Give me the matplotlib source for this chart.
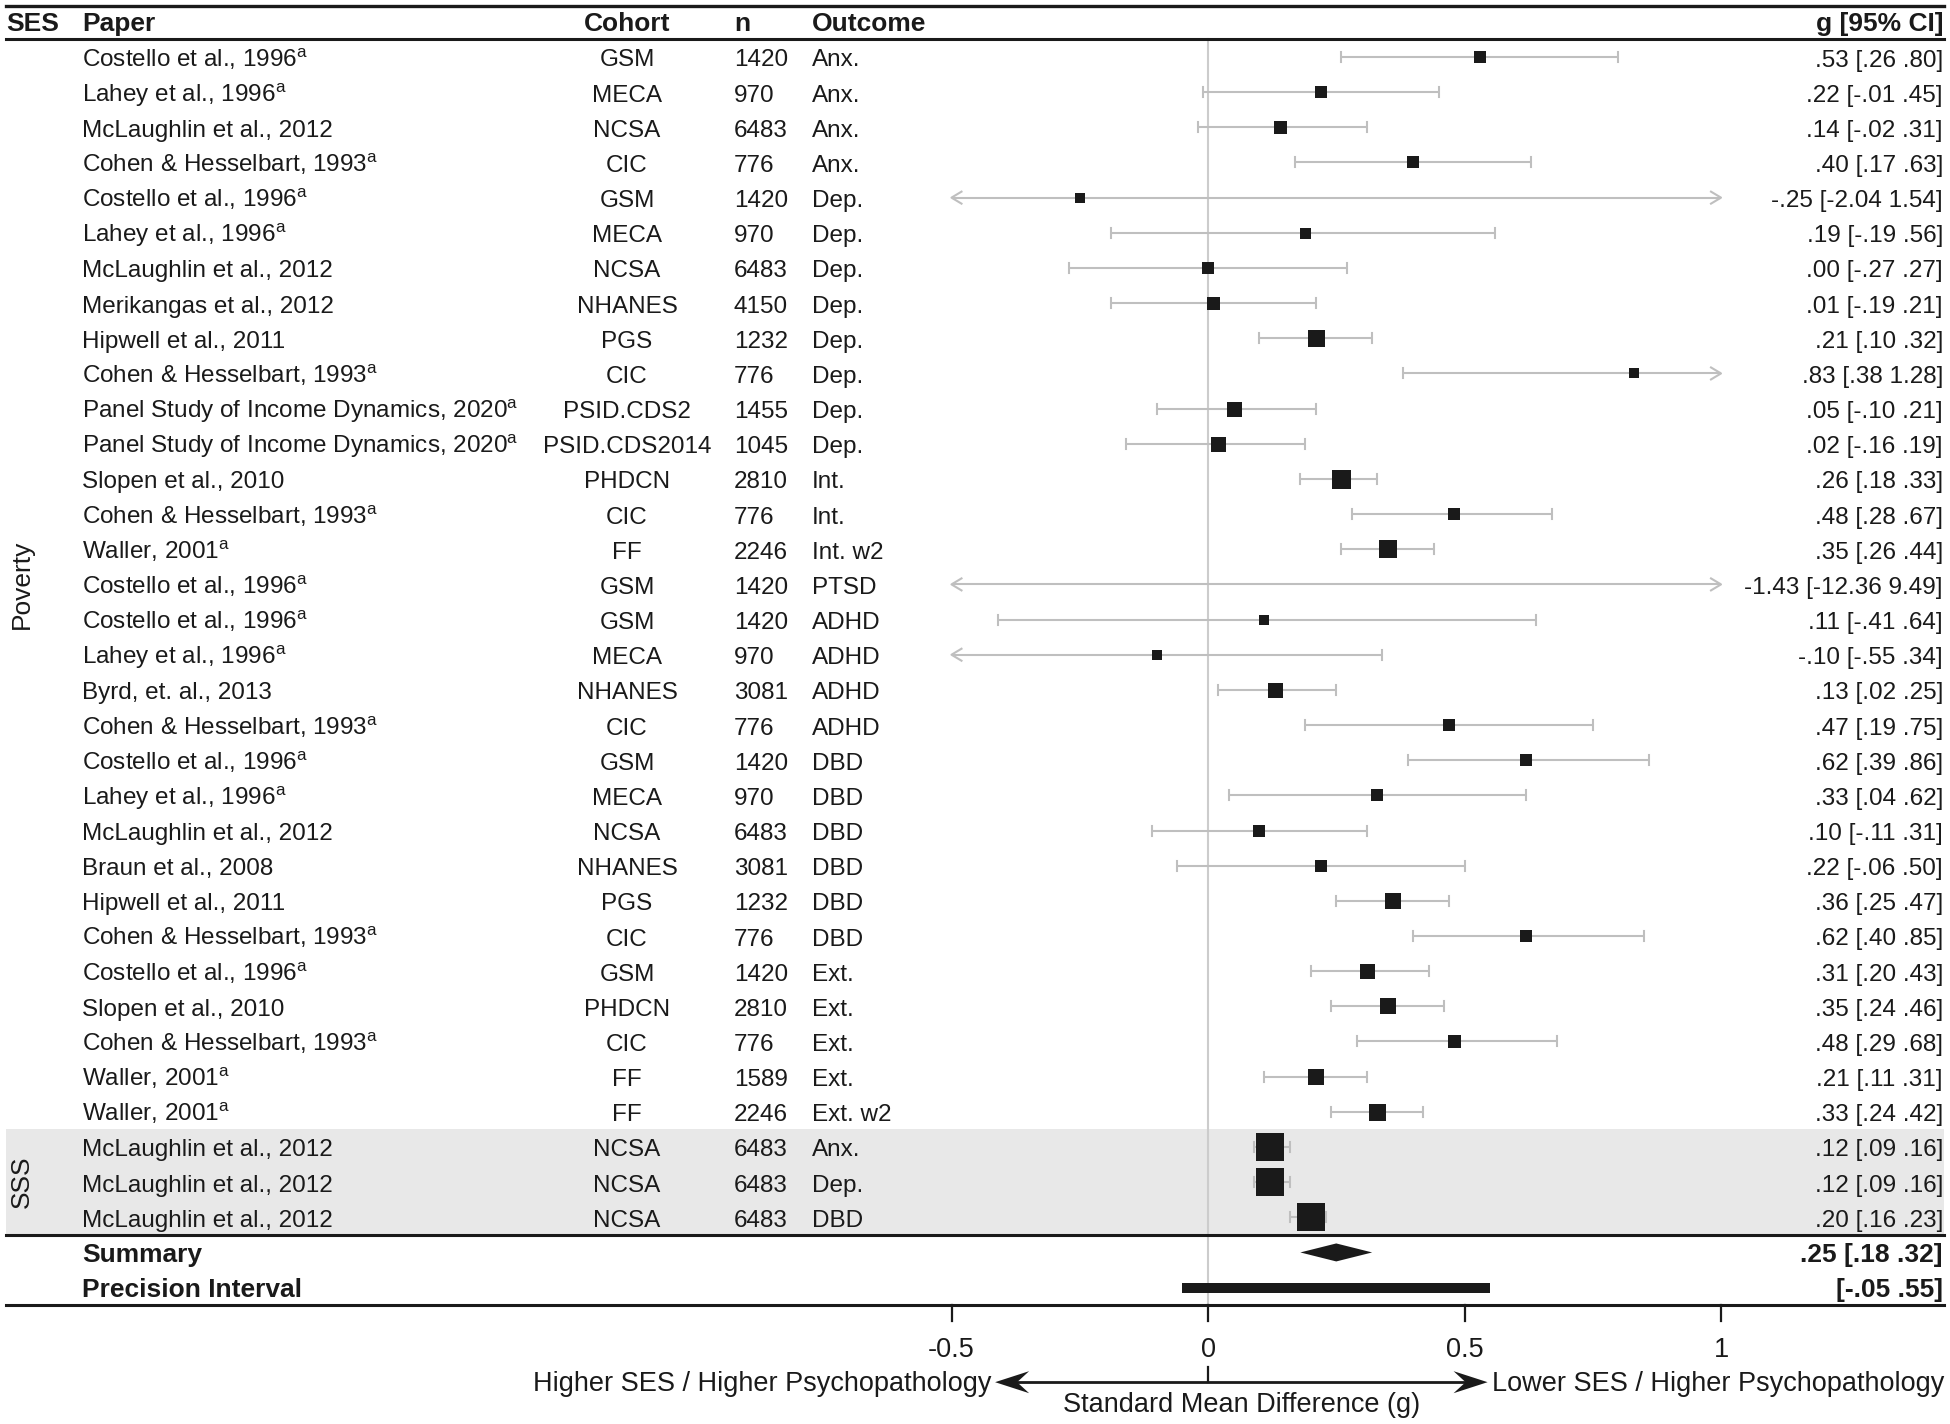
import matplotlib
matplotlib.use('Agg')
import matplotlib.pyplot as plt
from matplotlib.transforms import blended_transform_factory

plt.rcParams['font.family'] = ['Liberation Sans', 'DejaVu Sans']
plt.rcParams['mathtext.fontset'] = 'custom'
plt.rcParams['mathtext.rm'] = 'Liberation Sans'
plt.rcParams['mathtext.it'] = 'Liberation Sans:italic'
plt.rcParams['mathtext.bf'] = 'Liberation Sans:bold'

# ---------------- data ----------------
papers = [
    "Costello et al., 1996$^{\\mathrm{a}}$", "Lahey et al., 1996$^{\\mathrm{a}}$",
    "McLaughlin et al., 2012", "Cohen & Hesselbart, 1993$^{\\mathrm{a}}$",
    "Costello et al., 1996$^{\\mathrm{a}}$", "Lahey et al., 1996$^{\\mathrm{a}}$",
    "McLaughlin et al., 2012", "Merikangas et al., 2012", "Hipwell et al., 2011",
    "Cohen & Hesselbart, 1993$^{\\mathrm{a}}$",
    "Panel Study of Income Dynamics, 2020$^{\\mathrm{a}}$",
    "Panel Study of Income Dynamics, 2020$^{\\mathrm{a}}$",
    "Slopen et al., 2010", "Cohen & Hesselbart, 1993$^{\\mathrm{a}}$",
    "Waller, 2001$^{\\mathrm{a}}$", "Costello et al., 1996$^{\\mathrm{a}}$",
    "Costello et al., 1996$^{\\mathrm{a}}$", "Lahey et al., 1996$^{\\mathrm{a}}$",
    "Byrd, et. al., 2013", "Cohen & Hesselbart, 1993$^{\\mathrm{a}}$",
    "Costello et al., 1996$^{\\mathrm{a}}$", "Lahey et al., 1996$^{\\mathrm{a}}$",
    "McLaughlin et al., 2012", "Braun et al., 2008", "Hipwell et al., 2011",
    "Cohen & Hesselbart, 1993$^{\\mathrm{a}}$", "Costello et al., 1996$^{\\mathrm{a}}$",
    "Slopen et al., 2010", "Cohen & Hesselbart, 1993$^{\\mathrm{a}}$",
    "Waller, 2001$^{\\mathrm{a}}$", "Waller, 2001$^{\\mathrm{a}}$",
    "McLaughlin et al., 2012", "McLaughlin et al., 2012", "McLaughlin et al., 2012",
]
cohorts = ["GSM", "MECA", "NCSA", "CIC", "GSM", "MECA", "NCSA", "NHANES", "PGS", "CIC",
           "PSID.CDS2", "PSID.CDS2014", "PHDCN", "CIC", "FF", "GSM", "GSM", "MECA",
           "NHANES", "CIC", "GSM", "MECA", "NCSA", "NHANES", "PGS", "CIC", "GSM",
           "PHDCN", "CIC", "FF", "FF", "NCSA", "NCSA", "NCSA"]
ns = [1420, 970, 6483, 776, 1420, 970, 6483, 4150, 1232, 776, 1455, 1045, 2810, 776,
      2246, 1420, 1420, 970, 3081, 776, 1420, 970, 6483, 3081, 1232, 776, 1420, 2810,
      776, 1589, 2246, 6483, 6483, 6483]
outcomes = ["Anx.", "Anx.", "Anx.", "Anx.", "Dep.", "Dep.", "Dep.", "Dep.", "Dep.", "Dep.",
            "Dep.", "Dep.", "Int.", "Int.", "Int. w2", "PTSD", "ADHD", "ADHD", "ADHD",
            "ADHD", "DBD", "DBD", "DBD", "DBD", "DBD", "DBD", "Ext.", "Ext.", "Ext.",
            "Ext.", "Ext. w2", "Anx.", "Dep.", "DBD"]
g_est = [0.53, 0.22, 0.14, 0.40, -0.25, 0.19, 0.00, 0.01, 0.21, 0.83, 0.05, 0.02, 0.26,
         0.48, 0.35, -1.43, 0.11, -0.10, 0.13, 0.47, 0.62, 0.33, 0.10, 0.22, 0.36, 0.62,
         0.31, 0.35, 0.48, 0.21, 0.33, 0.12, 0.12, 0.20]
ci_lo = [0.26, -0.01, -0.02, 0.17, -2.04, -0.19, -0.27, -0.19, 0.10, 0.38, -0.10, -0.16,
         0.18, 0.28, 0.26, -12.36, -0.41, -0.55, 0.02, 0.19, 0.39, 0.04, -0.11, -0.06,
         0.25, 0.40, 0.20, 0.24, 0.29, 0.11, 0.24, 0.09, 0.09, 0.16]
ci_hi = [0.80, 0.45, 0.31, 0.63, 1.54, 0.56, 0.27, 0.21, 0.32, 1.28, 0.21, 0.19, 0.33,
         0.67, 0.44, 9.49, 0.64, 0.34, 0.25, 0.75, 0.86, 0.62, 0.31, 0.50, 0.47, 0.85,
         0.43, 0.46, 0.68, 0.31, 0.42, 0.16, 0.16, 0.23]
# relative study weight (marker side)
weights = [12, 12, 13, 12, 10, 11, 12, 13, 17, 10, 15, 15, 19, 12, 18, 9, 10, 10, 15,
           12, 12, 12, 12, 12, 16, 12, 15, 16, 13, 16, 17, 28, 27, 27]
ses_groups = ["Poverty", "SSS"]
group_sizes = [31, 3]
summary_g = [0.25, 0.18, 0.32]
precision_interval = [-0.05, 0.55]
xticks = [-0.5, 0, 0.5, 1]
xtick_labels = ["-0.5", "0", "0.5", "1"]
headers = ["SES", "Paper", "Cohort", "n", "Outcome", "g [95% CI]"]

# ---------------- layout ----------------
W, H = 1950, 1424
X0, PPU = 1208.0, 513.0       # pixel of g=0, pixels per unit
Y0, DY = 57.0, 35.16          # pixel of first row, row spacing
XMIN, XMAX = -0.5, 1.0        # clipping range of CI lines

fig = plt.figure(figsize=(W / 100, H / 100), dpi=100)
ax = fig.add_axes([0, 0, 1, 1])
ax.set_xlim(-X0 / PPU, (W - X0) / PPU)
ax.set_ylim((H - Y0) / DY, -Y0 / DY)
ax.axis('off')
tr = blended_transform_factory(ax.transAxes, ax.transData)

FS, FSB, FSAX = 17.5, 19, 19.5
TXT = '#1a1a1a'
CI_COL = '#bfbfbf'
MK_COL = '#1a1a1a'
px = lambda p: p / W
dxu = lambda p: p / PPU
dyr = lambda p: p / DY
BL = dyr(9.5)   # baseline offset for row text

nrows = len(papers)
row_y = list(range(nrows))
sum_y = nrows
pi_y = nrows + 1

# grey band for SSS
ax.axhspan(group_sizes[0] - 0.5, nrows - 0.5, xmin=px(6), xmax=px(1944),
           color='#e8e8e8', zorder=0, lw=0)

# horizontal rules
for yy, lw in [(-Y0 / DY + dyr(6), 2.4), (-0.5, 2.2), (nrows - 0.5, 2.2), (pi_y + 0.5, 2.2)]:
    ax.axhline(yy, xmin=px(6), xmax=px(1944), color='#1a1a1a', lw=lw, zorder=5)

# zero line
ax.plot([0, 0], [-0.5, pi_y + 0.5], color='#cccccc', lw=1.5, zorder=1)

# headers
hy = -1 + BL
hkw = dict(transform=tr, va='baseline', fontsize=FSB, fontweight='bold', color=TXT)
ax.text(px(6), hy, headers[0], ha='left', **hkw)
ax.text(px(82), hy, headers[1], ha='left', **hkw)
ax.text(px(627), hy, headers[2], ha='center', **hkw)
ax.text(px(734), hy, headers[3], ha='left', **hkw)
ax.text(px(812), hy, headers[4], ha='left', **hkw)
ax.text(px(1943), hy, headers[5], ha='right', **hkw)

def fmt(v):
    s = f"{v:.2f}"
    if s.startswith("0."):
        s = s[1:]
    elif s.startswith("-0."):
        s = "-" + s[2:]
    return s

# group labels
start = 0
for name, size in zip(ses_groups, group_sizes):
    ax.text(px(22), start + (size - 1) / 2, name, transform=tr, rotation=90,
            ha='center', va='center', fontsize=FSB, color=TXT)
    start += size

# rows
rkw = dict(transform=tr, va='baseline', fontsize=FS, color=TXT)
for i in range(nrows):
    y = row_y[i]
    ax.text(px(82), y + BL, papers[i], ha='left', **rkw)
    ax.text(px(627), y + BL, cohorts[i], ha='center', **rkw)
    ax.text(px(734), y + BL, str(ns[i]), ha='left', **rkw)
    ax.text(px(812), y + BL, outcomes[i], ha='left', **rkw)
    ax.text(px(1943), y + BL, f"{fmt(g_est[i])} [{fmt(ci_lo[i])} {fmt(ci_hi[i])}]",
            ha='right', **rkw)

    lo, hi = max(ci_lo[i], XMIN), min(ci_hi[i], XMAX)
    ax.plot([lo, hi], [y, y], color=CI_COL, lw=1.5, zorder=2, solid_capstyle='butt')
    for end, real, d in [(lo, ci_lo[i], -1), (hi, ci_hi[i], 1)]:
        clipped = (real < XMIN) if d < 0 else (real > XMAX)
        if clipped:
            back = end - d * dxu(10)
            ax.plot([back, end, back], [y - dyr(6), y, y + dyr(6)], color=CI_COL, lw=1.5, zorder=2)
        else:
            ax.plot([end, end], [y - dyr(5), y + dyr(5)], color=CI_COL, lw=1.5, zorder=2)
    if XMIN <= g_est[i] <= XMAX:
        side_pt = weights[i] * 72 / 100
        ax.scatter([g_est[i]], [y], marker='s', s=side_pt ** 2, color=MK_COL, zorder=4, lw=0)

# summary
skw = dict(transform=tr, va='baseline', fontsize=FSB, fontweight='bold', color=TXT)
ax.text(px(82), sum_y + BL, "Summary", ha='left', **skw)
ax.text(px(82), pi_y + BL, "Precision Interval", ha='left', **skw)
ax.text(px(1943), sum_y + BL, f"{fmt(summary_g[0])} [{fmt(summary_g[1])} {fmt(summary_g[2])}]",
        ha='right', **skw)
ax.text(px(1943), pi_y + BL, f"[{fmt(precision_interval[0])} {fmt(precision_interval[1])}]",
        ha='right', **skw)
hh = dyr(9)
ax.fill([summary_g[1], summary_g[0], summary_g[2], summary_g[0]],
        [sum_y, sum_y - hh, sum_y, sum_y + hh], color=MK_COL, zorder=4, lw=0)
ax.barh([pi_y], [precision_interval[1] - precision_interval[0]], left=precision_interval[0],
        height=dyr(10), color=MK_COL, zorder=4)

# bottom axis
axis_y = pi_y + 0.5          # pixel ~1305
for t, lab in zip(xticks, xtick_labels):
    ax.plot([t, t], [axis_y, axis_y + dyr(16)], color='#1a1a1a', lw=1.6, zorder=5)
    ax.text(t, axis_y + dyr(52), lab, ha='center', va='baseline', fontsize=FSAX, color=TXT)

arr_y = axis_y + dyr(77)
tip_l, tip_r = -0.415, 0.545
ax.plot([tip_l + dxu(20), tip_r - dxu(20)], [arr_y, arr_y], color='#1a1a1a', lw=2.0, zorder=5)
for tip, d in [(tip_l, -1), (tip_r, 1)]:
    L = dxu(34)
    ax.fill([tip, tip - d * L, tip - d * dxu(22), tip - d * L],
            [arr_y, arr_y - dyr(11), arr_y, arr_y + dyr(11)], color='#1a1a1a', lw=0, zorder=5)
ax.plot([0, 0], [arr_y - dyr(15), arr_y], color='#1a1a1a', lw=1.6, zorder=5)
ax.text(tip_l - dxu(4), arr_y + dyr(9), "Higher SES / Higher Psychopathology", ha='right',
        va='baseline', fontsize=FSAX, color=TXT)
ax.text(tip_r + dxu(4), arr_y + dyr(9), "Lower SES / Higher Psychopathology", ha='left',
        va='baseline', fontsize=FSAX, color=TXT)
ax.text((tip_l + tip_r) / 2, arr_y + dyr(30), "Standard Mean Difference (g)", ha='center',
        va='baseline', fontsize=FSAX, color=TXT)

fig.savefig("out.png", dpi=100, facecolor='white')
